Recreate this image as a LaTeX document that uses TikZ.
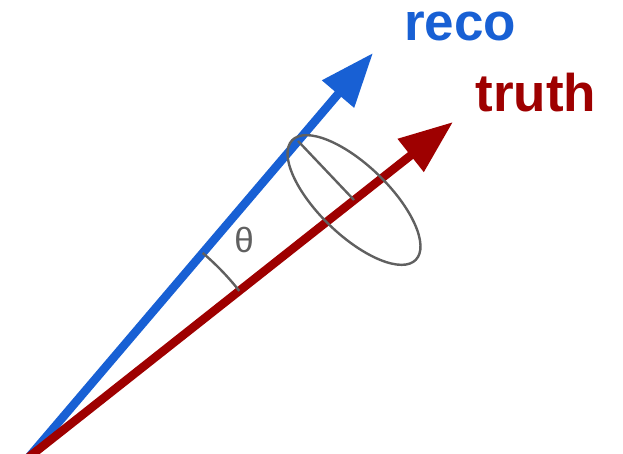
\documentclass[tikz,border=0pt]{standalone}
\usepackage{fontspec}
\setmainfont{Liberation Sans}
\usepackage{tikz}
\usetikzlibrary{arrows.meta,positioning}

\definecolor{recoblue}{RGB}{24,96,212}
\definecolor{truthred}{RGB}{158,0,0}
\definecolor{conegray}{RGB}{96,96,96}

\begin{document}
\begin{tikzpicture}[x=1pt,y=1pt,
    vec/.style={line width=8.5pt,-{Triangle[length=54pt,width=40pt]}},
    cone/.style={draw=conegray,line width=2.4pt},
    lbl/.style={inner sep=0pt,anchor=base,font=\bfseries\fontsize{53}{53}\selectfont}]
  \useasboundingbox (0,0) rectangle (623,453);
  \coordinate (o) at (29,-4);
  \coordinate (recotip) at (373,400);
  \coordinate (truthtip) at (453,331);
  \coordinate (c) at (354,253);
  \coordinate (rim) at (298,312);
  \draw[vec,recoblue] (o) -- (recotip);
  \draw[vec,truthred] (o) -- (truthtip);
  \draw[cone,rotate around={-44:(c)}] (c) ellipse [x radius=86, y radius=35];
  \draw[cone] (c) -- (rim);
  \draw[cone] (o) ++(49.6:268pt) arc[start angle=49.6,end angle=38.3,radius=268pt];
  \node[text=conegray,font=\fontsize{35}{35}\selectfont] (theta) at (244,213) {θ};
  \node[lbl,text=recoblue] (reco) at (460,412) {reco};
  \node[lbl,text=truthred] (truth) at (536,341) {truth};
\end{tikzpicture}
\end{document}
